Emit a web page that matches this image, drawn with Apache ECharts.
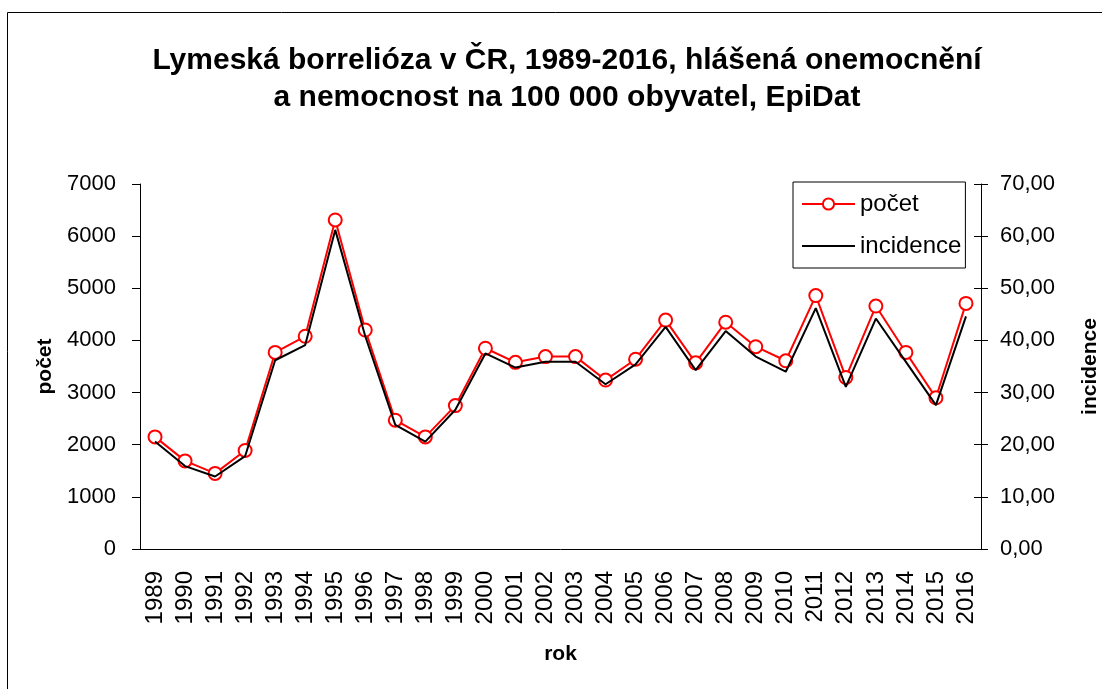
<!DOCTYPE html>
<html>
<head>
<meta charset="utf-8">
<script src="https://cdn.jsdelivr.net/npm/echarts@6/dist/echarts.min.js"></script>
<style>
  html, body { margin: 0; padding: 0; background: #fff; }
  #chart { width: 1102px; height: 689px; }
</style>
</head>
<body>
<div id="chart"></div>
<script>
const years = ["1989", "1990", "1991", "1992", "1993", "1994", "1995", "1996", "1997", "1998",
  "1999", "2000", "2001", "2002", "2003", "2004", "2005", "2006", "2007", "2008",
  "2009", "2010", "2011", "2012", "2013", "2014", "2015", "2016"];
const pocet = [2150, 1690, 1450, 1890, 3770, 4080, 6310, 4200, 2470, 2150,
  2750, 3850, 3580, 3690, 3690, 3240, 3640, 4390, 3570, 4350,
  3880, 3610, 4860, 3290, 4660, 3770, 2900, 4710];
const incidence = [20.6, 15.9, 13.9, 17.8, 36.2, 39.1, 61.2, 40.8, 23.8, 20.6,
  26.7, 37.5, 34.8, 35.9, 35.9, 31.6, 35.4, 42.6, 34.3, 41.8,
  36.9, 34.0, 46.2, 31.1, 44.2, 35.9, 27.6, 44.6];

const font = "Liberation Sans, Arial, sans-serif";
const nameStyle = { fontFamily: font, fontSize: 21, fontWeight: "bold", color: "#000" };
const chart = echarts.init(document.getElementById("chart"));

chart.setOption({
  animation: false,
  textStyle: { fontFamily: font, color: "#000" },
  title: {
    text: "Lymeská borrelióza v ČR, 1989-2016, hlášená onemocnění\na nemocnost na 100 000 obyvatel, EpiDat",
    left: 562,
    top: 37,
    textAlign: "center",
    textStyle: { fontFamily: font, fontSize: 30, fontWeight: "bold", color: "#000", lineHeight: 37 }
  },
  graphic: [{
    type: "rect",
    shape: { x: 7.5, y: 12.5, width: 1100, height: 690 },
    style: { fill: "none", stroke: "#000", lineWidth: 1 },
    silent: true
  }],
  legend: {
    left: 793,
    top: 182,
    orient: "vertical",
    padding: [10, 4, 10, 8],
    itemGap: 18,
    itemWidth: 53,
    itemHeight: 14,
    borderColor: "#000",
    borderWidth: 1,
    textStyle: { fontFamily: font, fontSize: 24, color: "#000" },
    data: [
      { name: "počet" },
      { name: "incidence", icon: "path://M0,0L53,0L53,2L0,2Z", itemStyle: { color: "#000" } }
    ]
  },
  grid: { left: 140, right: 121, top: 184, bottom: 140, outerBoundsMode: "none", containLabel: false },
  xAxis: {
    type: "category",
    data: years,
    name: "rok",
    nameLocation: "middle",
    nameGap: 95,
    nameTextStyle: nameStyle,
    axisLine: { lineStyle: { color: "#000", width: 1 } },
    axisTick: { length: 8, interval: 0, lineStyle: { color: "#000" } },
    axisLabel: { rotate: 90, interval: 0, fontSize: 24, color: "#000", margin: 22, fontFamily: font }
  },
  yAxis: [{
    type: "value",
    min: 0, max: 7000, interval: 1000,
    name: "počet",
    nameLocation: "middle",
    nameRotate: 90,
    nameGap: 84,
    nameTextStyle: nameStyle,
    axisLine: { show: true, lineStyle: { color: "#000" } },
    axisTick: { show: true, length: 8, lineStyle: { color: "#000" } },
    splitLine: { show: false },
    axisLabel: { fontSize: 22, color: "#000", margin: 24, fontFamily: font, formatter: v => String(v) }
  }, {
    type: "value",
    position: "right",
    min: 0, max: 70, interval: 10,
    name: "incidence",
    nameLocation: "middle",
    nameRotate: 90,
    nameGap: 99,
    nameTextStyle: nameStyle,
    axisLine: { show: true, lineStyle: { color: "#000" } },
    axisTick: { show: true, length: 7, lineStyle: { color: "#000" } },
    splitLine: { show: false },
    axisLabel: {
      fontSize: 22, color: "#000", margin: 19, fontFamily: font,
      formatter: v => v.toFixed(2).replace(".", ",")
    }
  }, {
    type: "value",
    position: "right",
    min: 0, max: 70, interval: 10,
    axisLine: { show: false },
    axisTick: { show: true, inside: true, length: 7, lineStyle: { color: "#000" } },
    axisLabel: { show: false },
    splitLine: { show: false }
  }],
  series: [{
    name: "počet",
    type: "line",
    yAxisIndex: 0,
    data: pocet,
    symbol: "circle",
    symbolSize: 13,
    z: 2,
    lineStyle: { color: "#ff0000", width: 2 },
    itemStyle: { color: "#fff", borderColor: "#ff0000", borderWidth: 2 }
  }, {
    name: "incidence",
    type: "line",
    yAxisIndex: 1,
    data: incidence,
    symbol: "none",
    z: 3,
    lineStyle: { color: "#000", width: 2 },
    itemStyle: { color: "#000" }
  }]
});
</script>
</body>
</html>
